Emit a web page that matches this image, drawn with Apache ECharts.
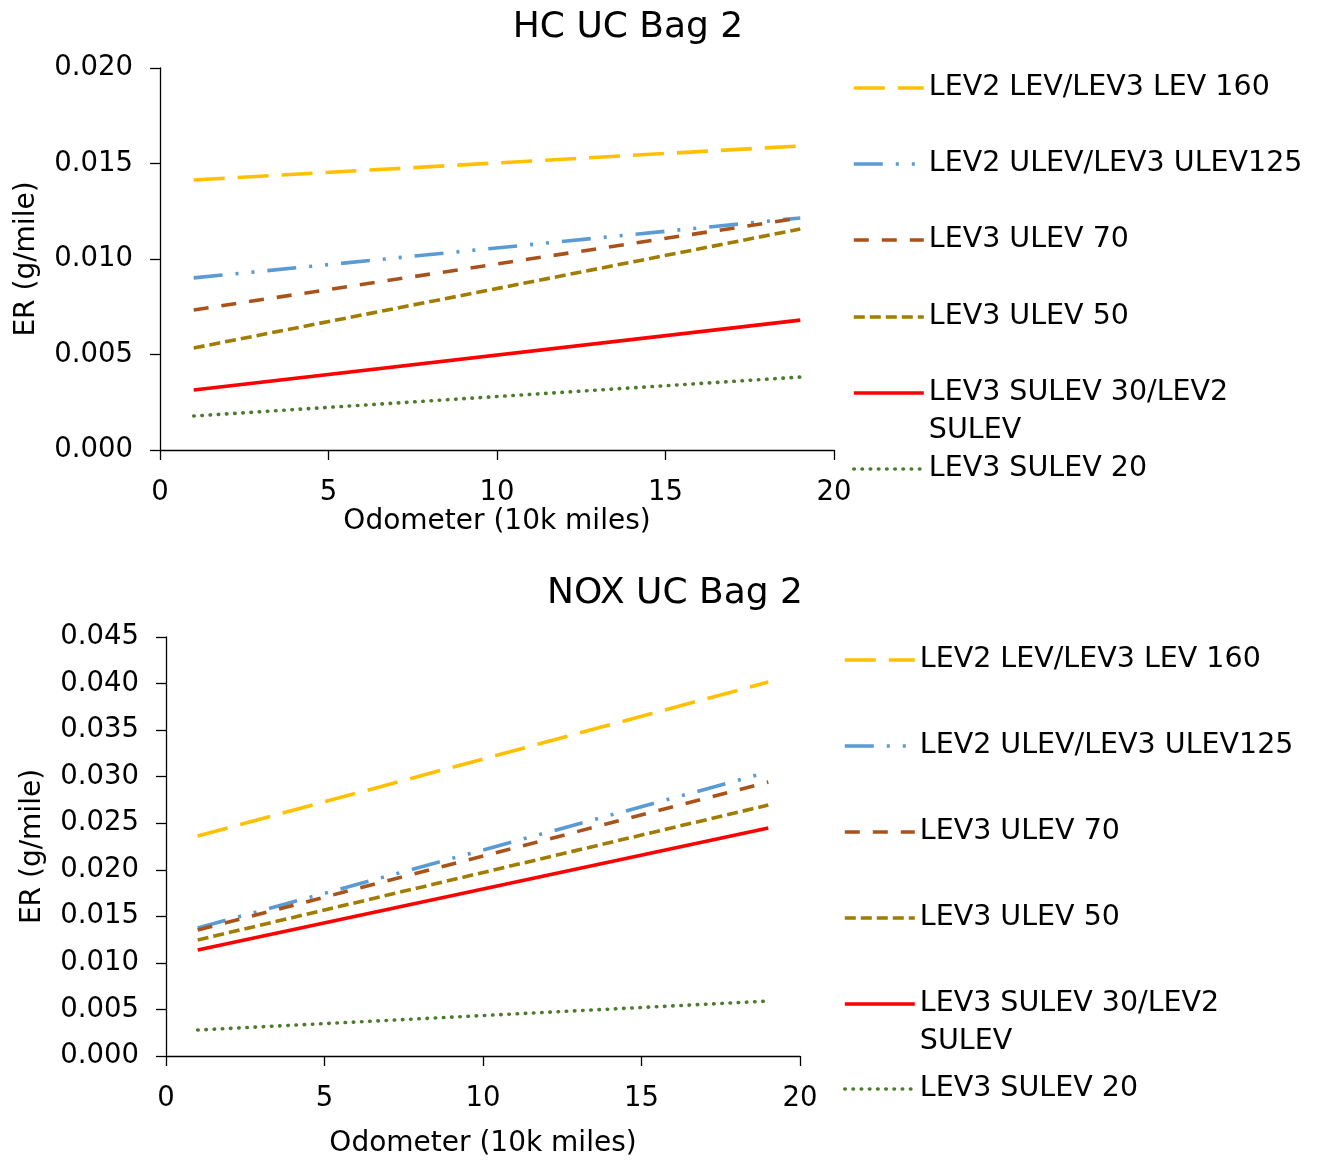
<!DOCTYPE html>
<html>
<head>
<meta charset="utf-8">
<script src="https://cdn.jsdelivr.net/npm/echarts@6/dist/echarts.min.js"></script>
<style>
html,body{margin:0;padding:0;background:#fff;}
#c{width:1326px;height:1160px;}
</style>
</head>
<body>
<div id="c"></div>
<script>
// ---- data ----
var seriesNames = [
  'LEV2 LEV/LEV3 LEV 160',
  'LEV2 ULEV/LEV3 ULEV125',
  'LEV3 ULEV 70',
  'LEV3 ULEV 50',
  'LEV3 SULEV 30/LEV2 SULEV',
  'LEV3 SULEV 20'
];
var odometer = [1, 19];
var hcLev160 = [0.01414, 0.01592];
var hcUlev125 = [0.00901, 0.01215];
var hcUlev70 = [0.00733, 0.01215];
var hcUlev50 = [0.00534, 0.01157];
var hcSulev30 = [0.00314, 0.00680];
var hcSulev20 = [0.00178, 0.00382];

var noxLev160 = [0.02363, 0.04016];
var noxUlev125 = [0.01375, 0.03050];
var noxUlev70 = [0.01353, 0.02942];
var noxUlev50 = [0.01246, 0.02695];
var noxSulev30 = [0.01138, 0.02448];
var noxSulev20 = [0.00279, 0.00590];

var xTicks = {min: 0, max: 20, interval: 5};
var hcY = {min: 0, max: 0.020, interval: 0.005};
var noxY = {min: 0, max: 0.045, interval: 0.005};

// ---- styles ----
var FONT = 'DejaVu Sans';
var LW = 3.6;
var styles = [
  {color: '#FFC000', type: [31, 13], cap: 'butt'},
  {color: '#5B9BD5', type: [29, 13, 3, 13, 3, 13], cap: 'butt'},
  {color: '#A9531A', type: [15, 13], cap: 'butt'},
  {color: '#A07C00', type: [11, 5], cap: 'butt'},
  {color: '#FF0000', type: 'solid', cap: 'butt'},
  {color: '#4E7A2E', type: [0.5, 7.7], cap: 'round'}
];
var hcData = [hcLev160, hcUlev125, hcUlev70, hcUlev50, hcSulev30, hcSulev20];
var noxData = [noxLev160, noxUlev125, noxUlev70, noxUlev50, noxSulev30, noxSulev20];

function pairs(vals) {
  return odometer.map(function (x, i) { return [x, vals[i]]; });
}

var LH = 38;
function legendFormatter(name) {
  if (name === 'LEV3 SULEV 30/LEV2 SULEV') return ' \nLEV3 SULEV 30/LEV2\nSULEV';
  return name;
}

var grids = [
  {left: 160, top: 68, width: 674, height: 382},
  {left: 166, top: 637, width: 634, height: 419}
];
var legendX = [852, 843];
var legendRows = [
  [88, 164, 240, 317, 393, 469],
  [660, 746, 832, 918, 1004, 1089]
];

var xAxes = [], yAxes = [], series = [], legends = [];
[0, 1].forEach(function (gi) {
  xAxes.push({
    type: 'value', gridIndex: gi,
    min: xTicks.min, max: xTicks.max, interval: xTicks.interval,
    name: 'Odometer (10k miles)', nameLocation: 'middle',
    nameGap: gi === 0 ? 55 : 74,
    nameTextStyle: {fontFamily: FONT, fontSize: 28, color: '#000'},
    axisLine: {lineStyle: {color: '#000', width: 1.3}},
    axisTick: {show: true, length: 10, lineStyle: {color: '#000', width: 1.3}},
    axisLabel: {fontFamily: FONT, fontSize: 27.5, color: '#000', margin: 29},
    splitLine: {show: false}
  });
  var yr = gi === 0 ? hcY : noxY;
  yAxes.push({
    type: 'value', gridIndex: gi,
    min: yr.min, max: yr.max, interval: yr.interval,
    name: 'ER (g/mile)', nameLocation: 'middle',
    nameGap: gi === 0 ? 119 : 119,
    nameTextStyle: {fontFamily: FONT, fontSize: 28, color: '#000'},
    axisLine: {show: true, lineStyle: {color: '#000', width: 1.3}},
    axisTick: {show: true, length: 10, lineStyle: {color: '#000', width: 1.3}},
    axisLabel: {fontFamily: FONT, fontSize: 27.5, color: '#000', margin: 27,
      padding: [4, 0, 0, 0],
      formatter: function (v) { return v.toFixed(3); }},
    splitLine: {show: false}
  });
  var dat = gi === 0 ? hcData : noxData;
  seriesNames.forEach(function (nm, si) {
    series.push({
      type: 'line', name: nm, xAxisIndex: gi, yAxisIndex: gi,
      data: pairs(dat[si]), symbol: 'none', silent: true, animation: false,
      lineStyle: {color: styles[si].color, width: LW, type: styles[si].type, cap: styles[si].cap},
      itemStyle: {color: styles[si].color}
    });
    var multi = nm === 'LEV3 SULEV 30/LEV2 SULEV';
    legends.push({
      left: legendX[gi],
      top: multi ? legendRows[gi][si] - 1.5 * LH : legendRows[gi][si] - LH / 2,
      padding: 0,
      orient: 'vertical',
      data: [nm],
      itemWidth: 70, itemHeight: 14,
      formatter: legendFormatter,
      selectedMode: false,
      itemStyle: {opacity: 0},
      lineStyle: {width: LW},
      textStyle: {fontFamily: FONT, fontSize: 28.5, color: '#000', lineHeight: LH}
    });
  });
});

var option = {
  backgroundColor: '#fff',
  animation: false,
  title: [
    {text: 'HC UC Bag 2', left: 628, top: 10, padding: 0, textAlign: 'center',
      textStyle: {fontFamily: FONT, fontSize: 36, fontWeight: 'normal', color: '#000'}},
    {text: 'NOX UC Bag 2', left: 675, top: 576, padding: 0, textAlign: 'center',
      textStyle: {fontFamily: FONT, fontSize: 36, fontWeight: 'normal', color: '#000'}}
  ],
  grid: grids,
  xAxis: xAxes,
  yAxis: yAxes,
  legend: legends,
  series: series
};
var chart = echarts.init(document.getElementById('c'));
chart.setOption(option);
</script>
</body>
</html>
